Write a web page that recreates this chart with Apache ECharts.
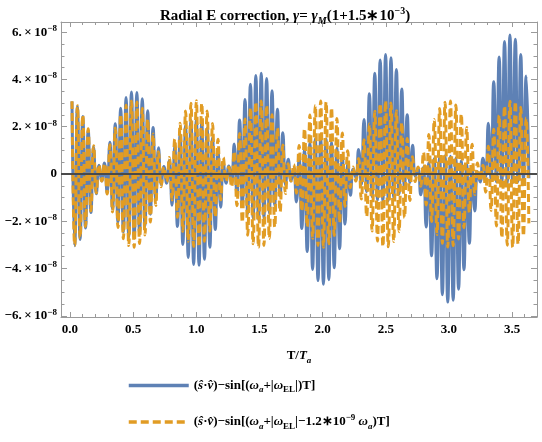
<!DOCTYPE html>
<html>
<head>
<meta charset="utf-8">
<script src="https://cdn.jsdelivr.net/npm/echarts@6/dist/echarts.min.js"></script>
<style>
html, body { margin: 0; padding: 0; background: #fff; }
#main { width: 542px; height: 442px; }
</style>
</head>
<body>
<div id="main"></div>
<script>
// extrema of the fast oscillation, one every half period, values in units of 1e-8
var firstPeakT = 0.016;
var halfPeriod = 0.0214;

var orangePeaks = [
  3.08, -3.01, 2.89, -2.71, 2.49, -2.22, 1.91, -1.56, 1.19, -0.80,
  0.39, -0.30, 0.44, -0.85, 1.24, -1.61, 1.95, -2.26, 2.52, -2.74,
  2.91, -3.03, 3.09, -3.10, 3.05, -2.94, 2.78, -2.58, 2.32, -2.03,
  1.69, -1.33, 0.94, -0.54, 0.30, -0.33, 0.70, -1.10, 1.48, -1.83,
  2.15, -2.43, 2.67, -2.85, 2.99, -3.07, 3.10, -3.07, 2.99, -2.85,
  2.66, -2.42, 2.14, -1.82, 1.47, -1.09, 0.69, -0.30, 0.30, -0.55,
  0.96, -1.34, 1.71, -2.04, 2.33, -2.59, 2.79, -2.95, 3.05, -3.10,
  3.09, -3.02, 2.90, -2.73, 2.51, -2.25, 1.94, -1.60, 1.23, -0.83,
  0.43, -0.30, 0.40, -0.81, 1.21, -1.58, 1.92, -2.23, 2.50, -2.72,
  2.90, -3.02, 3.09, -3.10, 3.05, -2.95, 2.80, -2.60, 2.35, -2.06,
  1.73, -1.37, 0.98, -0.58, 0.30, -0.30, 0.66, -1.06, 1.45, -1.80,
  2.12, -2.41, 2.65, -2.84, 2.98, -3.07, 3.10, -3.08, 3.00, -2.86,
  2.68, -2.44, 2.17, -1.85, 1.50, -1.12, 0.73, -0.32, 0.30, -0.52,
  0.92, -1.31, 1.67, -2.01, 2.31, -2.56, 2.77, -2.93, 3.04, -3.09,
  3.09, -3.03, 2.92, -2.75, 2.54, -2.27, 1.97, -1.63, 1.26, -0.87,
  0.47, -0.30, 0.37, -0.77, 1.17, -1.54, 1.89, -2.20, 2.48, -2.70,
  2.88, -3.01, 3.08, -3.10, 3.06, -2.97, 2.82, -2.62, 2.37, -2.09
];

var bluePeaks = [
  3.07, -3.04, 2.85, -2.77, 2.43, -2.29, 1.84, -1.63, 1.13, -0.84,
  0.37, -0.30, 0.47, -0.79, 1.34, -1.47, 2.13, -2.04, 2.78, -2.45,
  3.24, -2.67, 3.47, -2.70, 3.45, -2.53, 3.18, -2.19, 2.68, -1.70,
  1.97, -1.10, 1.11, -0.44, 0.32, -0.39, 0.56, -1.32, 1.17, -2.22,
  1.68, -2.98, 2.05, -3.53, 2.27, -3.83, 2.32, -3.86, 2.21, -3.61,
  1.93, -3.10, 1.53, -2.35, 1.04, -1.41, 0.48, -0.39, 0.34, -0.38,
  1.27, -0.90, 2.28, -1.34, 3.15, -1.67, 3.80, -1.87, 4.17, -1.93,
  4.26, -1.86, 4.04, -1.65, 3.52, -1.33, 2.74, -0.93, 1.75, -0.47,
  0.62, -0.30, 0.22, -1.18, 0.66, -2.31, 1.02, -3.28, 1.31, -4.04,
  1.49, -4.51, 1.55, -4.66, 1.49, -4.47, 1.34, -3.97, 1.10, -3.16,
  0.79, -2.12, 0.44, -0.90, 0.21, -0.16, 1.04, -0.44, 2.30, -0.74,
  3.39, -0.96, 4.26, -1.10, 4.82, -1.16, 5.05, -1.13, 4.92, -1.01,
  4.42, -0.84, 3.60, -0.62, 2.51, -0.36, 1.22, -0.10, 0.23, -0.88,
  0.27, -2.24, 0.47, -3.46, 0.64, -4.43, 0.73, -5.11, 0.77, -5.42,
  0.75, -5.34, 0.68, -4.88, 0.56, -4.05, 0.41, -2.93, 0.25, -1.57,
  0.09, -0.34, 0.67, -0.13, 2.15, -0.25, 3.90, -0.33, 4.95, -0.38,
  5.60, -0.39, 5.88, -0.37, 5.70, -0.32, 5.05, -0.25, 4.15, -0.18
];

var xMajor = [0, 0.5, 1, 1.5, 2, 2.5, 3, 3.5];
var xMinor = [0.1, 0.2, 0.3, 0.4, 0.6, 0.7, 0.8, 0.9, 1.1, 1.2, 1.3, 1.4, 1.6, 1.7, 1.8, 1.9,
              2.1, 2.2, 2.3, 2.4, 2.6, 2.7, 2.8, 2.9, 3.1, 3.2, 3.3, 3.4, 3.6];
var yMajor = [-6, -4, -2, 0, 2, 4, 6];
var yMinor = [-5.5, -5, -4.5, -3.5, -3, -2.5, -1.5, -1, -0.5, 0.5, 1, 1.5, 2.5, 3, 3.5, 4.5, 5, 5.5];

var xMin = -0.071, xMax = 3.697;
var yMin = -6.05, yMax = 6.43;

function toPairs(peaks) {
  var out = [];
  for (var i = 0; i < peaks.length; i++) {
    out.push([firstPeakT + i * halfPeriod, peaks[i]]);
  }
  return out;
}

var serif = 'Liberation Serif, Times New Roman, serif';
var frame = '#9a9a9a';
var rich = {
  b: { fontFamily: serif, fontWeight: 'bold', fontSize: 13, lineHeight: 18, color: '#000' },
  i: { fontFamily: serif, fontWeight: 'bold', fontStyle: 'italic', fontSize: 13, lineHeight: 18, color: '#000' },
  isub: { fontFamily: serif, fontWeight: 'bold', fontStyle: 'italic', fontSize: 9, lineHeight: 11, verticalAlign: 'bottom', color: '#000' },
  bsub: { fontFamily: serif, fontWeight: 'bold', fontSize: 9, lineHeight: 11, verticalAlign: 'bottom', color: '#000' },
  sup: { fontFamily: serif, fontWeight: 'bold', fontSize: 9, lineHeight: 11, verticalAlign: 'top', color: '#000' }
};
var tickRich = {
  b: { fontFamily: serif, fontWeight: 'bold', fontSize: 13, lineHeight: 16, color: '#000' },
  sup: { fontFamily: serif, fontWeight: 'bold', fontSize: 9, lineHeight: 10, verticalAlign: 'top', color: '#000' }
};

function xAxisDef(pos, ticks, len, withLabels, withLine) {
  return {
    type: 'value', position: pos, min: xMin, max: xMax,
    axisLine: { show: withLine, onZero: false, lineStyle: { color: frame, width: 1 } },
    axisTick: { show: true, inside: true, length: len, customValues: ticks, lineStyle: { color: frame } },
    axisLabel: withLabels ? {
      show: true, customValues: xMajor, margin: 5,
      formatter: function (v) { return '{b|' + v.toFixed(1) + '}'; },
      rich: tickRich
    } : { show: false },
    splitLine: { show: false }
  };
}
function yAxisDef(pos, ticks, len, withLabels, withLine) {
  return {
    type: 'value', position: pos, min: yMin, max: yMax,
    axisLine: { show: withLine, onZero: false, lineStyle: { color: frame, width: 1 } },
    axisTick: { show: true, inside: true, length: len, customValues: ticks, lineStyle: { color: frame } },
    axisLabel: withLabels ? {
      show: true, customValues: yMajor, margin: 4,
      formatter: function (v) {
        if (v === 0) return '{b|0}';
        return '{b|' + (v < 0 ? '\u2212' : '') + Math.abs(v) + '.\u2009\u00d7\u200910}{sup|\u22128}';
      },
      rich: tickRich
    } : { show: false },
    splitLine: { show: false }
  };
}

var xAxes = [
  xAxisDef('bottom', xMajor, 5, true, true),
  xAxisDef('bottom', xMinor, 3, false, false),
  xAxisDef('top', xMajor, 5, false, true),
  xAxisDef('top', xMinor, 3, false, false)
];
xAxes[0].name = '{b|T/}{i|T}{isub|a}';
xAxes[0].nameLocation = 'middle';
xAxes[0].nameGap = 30;
xAxes[0].nameTextStyle = { rich: rich };

var yAxes = [
  yAxisDef('left', yMajor, 6, true, true),
  yAxisDef('left', yMinor, 3.5, false, false),
  yAxisDef('right', yMajor, 6, false, true),
  yAxisDef('right', yMinor, 3.5, false, false)
];

var legendText = {
  blue: '{b|(}{i|\u015d}{b|\u00b7}{i|v\u0302}{b|)\u2212sin[(}{i|\u03c9}{isub|a}{b|+|}{i|\u03c9}{bsub|EL}{b||)T]}',
  orange: '{b|(}{i|\u015d}{b|\u00b7}{i|v\u0302}{b|)\u2212sin[(}{i|\u03c9}{isub|a}{b|+|}{i|\u03c9}{bsub|EL}{b||\u22121.2\u221710}{sup|\u22129}{b| }{i|\u03c9}{isub|a}{b|)T]}'
};

function legendDef(name, top) {
  return {
    orient: 'vertical', left: 122, top: top,
    itemWidth: 60, itemHeight: 14, itemGap: 10,
    data: [name],
    itemStyle: { opacity: 0 },
    lineStyle: { width: 3.5 },
    formatter: function (n) { return legendText[n]; },
    textStyle: { rich: rich }
  };
}

var chart = echarts.init(document.getElementById('main'));
chart.setOption({
  animation: false,
  backgroundColor: '#fff',
  title: {
    text: '{b|Radial E correction, }{i|\u03b3}{b|= }{i|\u03b3}{isub|M}{b|(1+1.5\u221710}{sup|\u22123}{b|)}',
    left: 155, top: 1,
    textStyle: { rich: {
      b: { fontFamily: serif, fontWeight: 'bold', fontSize: 15, lineHeight: 20, color: '#000' },
      i: { fontFamily: serif, fontStyle: 'italic', fontSize: 15, lineHeight: 20, color: '#000' },
      isub: { fontFamily: serif, fontStyle: 'italic', fontSize: 10, lineHeight: 12, verticalAlign: 'bottom', color: '#000' },
      sup: { fontFamily: serif, fontWeight: 'bold', fontSize: 10, lineHeight: 12, verticalAlign: 'top', color: '#000' }
    } }
  },
  grid: { left: 61, right: 5, top: 22, bottom: 125, containLabel: false },
  xAxis: xAxes,
  yAxis: yAxes,
  legend: [legendDef('blue', 374), legendDef('orange', 408)],
  series: [
    {
      name: 'blue', type: 'line', xAxisIndex: 0, yAxisIndex: 0,
      data: toPairs(bluePeaks), symbol: 'none', smooth: 0.5,
      lineStyle: { color: '#5e81b5', width: 3 },
      itemStyle: { color: '#5e81b5' }
    },
    {
      name: 'orange', type: 'line', xAxisIndex: 0, yAxisIndex: 0,
      data: toPairs(orangePeaks), symbol: 'none', smooth: 0.5,
      lineStyle: { color: '#e19c24', width: 3, type: [8, 4] },
      itemStyle: { color: '#e19c24' },
      markLine: {
        silent: true, symbol: 'none', z: 10,
        label: { show: false },
        lineStyle: { color: '#4a4a4a', width: 2, type: 'solid' },
        data: [{ yAxis: 0 }]
      }
    }
  ]
});
</script>
</body>
</html>
